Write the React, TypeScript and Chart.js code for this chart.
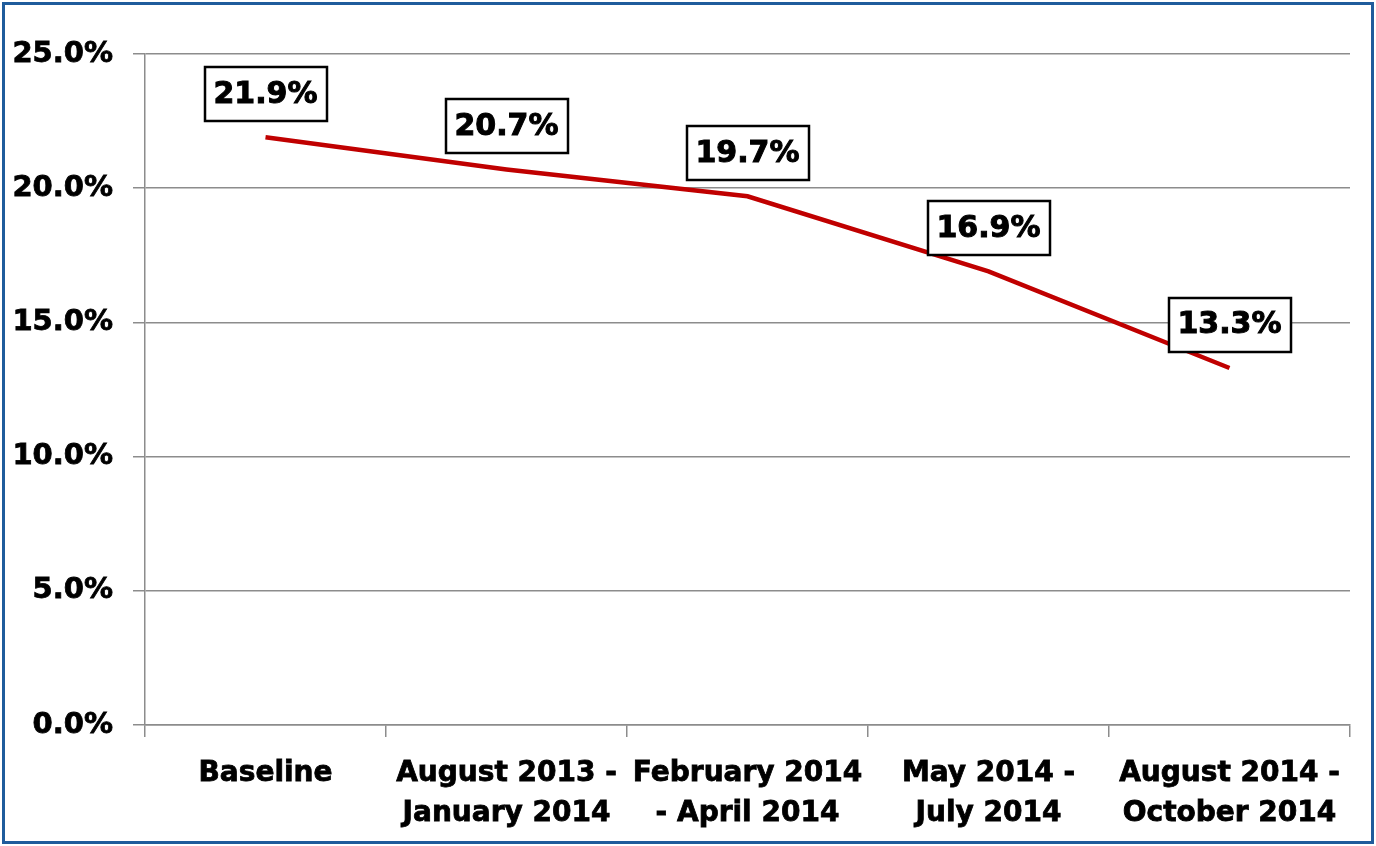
import React, { useEffect, useRef } from "react";
import { Chart, registerables } from "chart.js";

Chart.register(...registerables);

const categories: string[][] = [
  ["Baseline"],
  ["August 2013 -", "January 2014"],
  ["February 2014", "- April 2014"],
  ["May 2014 -", "July 2014"],
  ["August 2014 -", "October 2014"],
];
const values: number[] = [21.9, 20.7, 19.7, 16.9, 13.3];
const labelTexts: string[] = ["21.9%", "20.7%", "19.7%", "16.9%", "13.3%"];
const yMin = 0;
const yMax = 25;
const yStep = 5;

const FONT = '"DejaVu Sans", "Liberation Sans", Arial, sans-serif';
const GRID = "#8c8c8c";

const labelBoxPlugin = {
  id: "labelBoxes",
  afterDatasetsDraw(chart: any) {
    const ctx = chart.ctx as CanvasRenderingContext2D;
    const meta = chart.getDatasetMeta(0);
    ctx.save();
    ctx.font = `bold 30px ${FONT}`;
    ctx.textAlign = "center";
    ctx.textBaseline = "middle";
    meta.data.forEach((pt: any, i: number) => {
      const text = labelTexts[i];
      const w = Math.round(ctx.measureText(text).width + 18);
      const h = 54;
      const cx = pt.x;
      const cy = pt.y - 43.5;
      const x0 = Math.round(cx - w / 2);
      const y0 = Math.round(cy - h / 2);
      ctx.fillStyle = "#ffffff";
      ctx.fillRect(x0, y0, w, h);
      ctx.strokeStyle = "#000000";
      ctx.lineWidth = 2.5;
      ctx.strokeRect(x0, y0, w, h);
      ctx.fillStyle = "#000000";
      ctx.fillText(text, cx, cy + 1);
      ctx.lineWidth = 1;
      ctx.strokeText(text, cx, cy + 1);
    });
    ctx.restore();
  },
};

export default function App() {
  const ref = useRef<HTMLCanvasElement | null>(null);
  useEffect(() => {
    if (!ref.current) return;
    const chart = new Chart(ref.current, {
      type: "line",
      data: {
        labels: categories,
        datasets: [
          {
            data: values,
            borderColor: "#c00000",
            borderWidth: 4.5,
            pointRadius: 0,
            tension: 0,
            fill: false,
          },
        ],
      },
      options: {
        responsive: false,
        animation: false,
        layout: { padding: { left: 0, top: 54, right: 26, bottom: 0 } },
        plugins: { legend: { display: false }, tooltip: { enabled: false } },
        scales: {
          x: {
            offset: true,
            grid: {
              offset: true,
              drawOnChartArea: false,
              drawTicks: true,
              tickLength: 12,
              color: GRID,
              lineWidth: 1.5,
            },
            border: { color: GRID, width: 1.5 },
            ticks: {
              autoSkip: false,
              maxRotation: 0,
              minRotation: 0,
              padding: 17,
              color: "#000",
              textStrokeColor: "#000",
              textStrokeWidth: 0.8,
              font: { family: FONT, size: 28, weight: "bold", lineHeight: 1.43 },
            },
            afterFit: (s: any) => {
              s.height = 121;
            },
          },
          y: {
            min: yMin,
            max: yMax,
            ticks: {
              stepSize: yStep,
              padding: 20,
              color: "#000",
              textStrokeColor: "#000",
              textStrokeWidth: 0.8,
              font: { family: FONT, size: 29, weight: "bold" },
              callback: (v: any) => Number(v).toFixed(1) + "%",
            },
            grid: { color: GRID, lineWidth: 1.5, tickLength: 12 },
            border: { color: GRID, width: 1.5 },
            afterFit: (s: any) => {
              s.width = 145;
            },
          },
        },
      },
      plugins: [labelBoxPlugin],
    } as any);
    return () => chart.destroy();
  }, []);
  return (
    <div
      style={{
        position: "fixed",
        left: 0,
        top: 0,
        width: 1376,
        height: 846,
        background: "#fff",
        overflow: "hidden",
      }}
    >
      <canvas
        ref={ref}
        width={1376}
        height={846}
        style={{ position: "absolute", left: 0, top: 0, width: 1376, height: 846 }}
      />
      <div
        style={{
          position: "absolute",
          left: 2,
          top: 2,
          right: 2,
          bottom: 2,
          border: "3px solid #1f5c9c",
          boxSizing: "border-box",
          pointerEvents: "none",
        }}
      />
    </div>
  );
}
